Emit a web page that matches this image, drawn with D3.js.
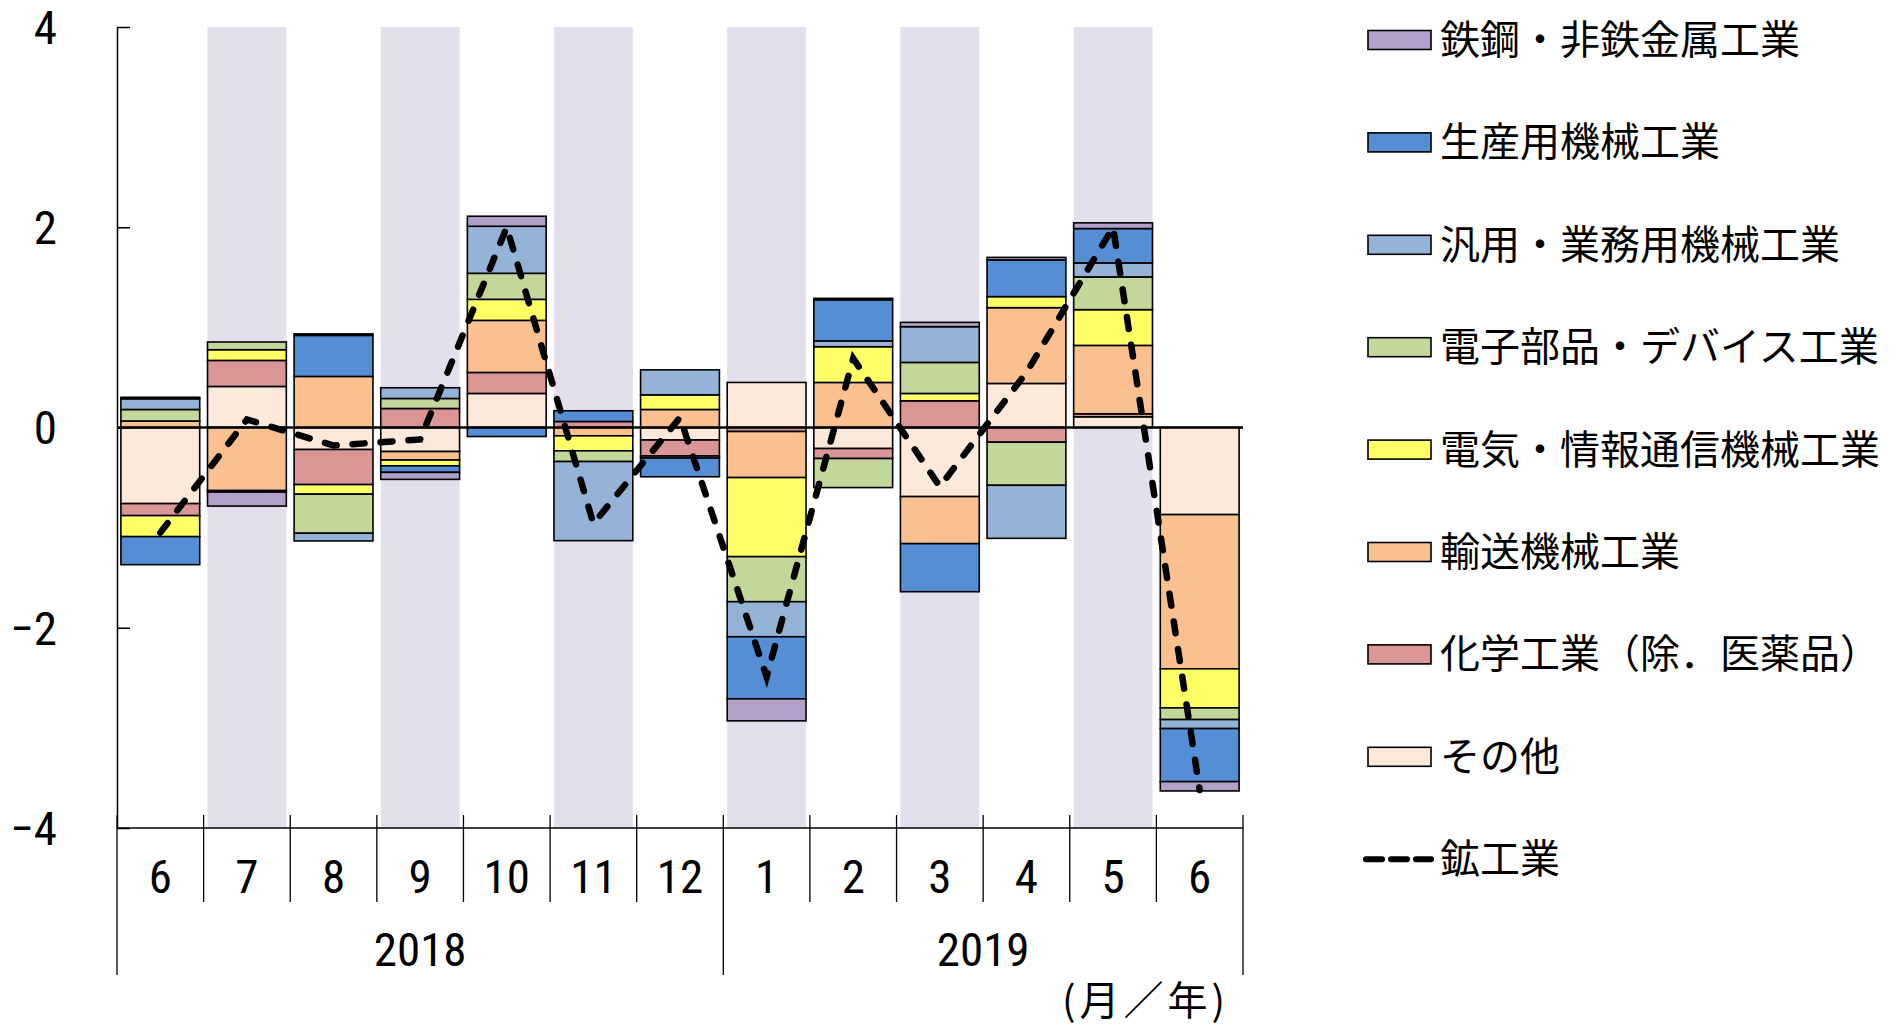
<!DOCTYPE html>
<html>
<head>
<meta charset="utf-8">
<script src="https://cdn.jsdelivr.net/npm/d3@7/dist/d3.min.js"></script>
<style>
  html, body { margin: 0; padding: 0; background: #fff; }
  svg { display: block; }
  .num { font-family: 'Liberation Sans Narrow', 'Arial Narrow', 'Roboto Condensed', sans-serif; }
  .jp { font-family: 'Noto Sans CJK JP', 'Noto Sans CJK SC', sans-serif; }
</style>
</head>
<body>
<svg id="chart" width="1898" height="1029"></svg>
<script>
// 鉱工業生産の前月比寄与度（業種別）
const months = ["6", "7", "8", "9", "10", "11", "12", "1", "2", "3", "4", "5", "6"];
const years = [
  { label: "2018", from: 0, to: 7 },
  { label: "2019", from: 7, to: 13 }
];
const yTicks = [4, 2, 0, -2, -4];

// 業種別寄与度（%ポイント）
const sonota   = [-0.76, 0.41, -0.22, -0.24, 0.34, 0.00, -0.125, 0.45, -0.21, -0.69, 0.44, 0.107, -0.87];
const kagaku   = [-0.12, 0.26, -0.35, 0.19, 0.21, 0.06, -0.16, -0.04, -0.10, 0.267, -0.147, 0.03, 0.00];
const yusou    = [0.065, -0.63, 0.51, -0.085, 0.52, -0.083, 0.18, -0.46, 0.45, -0.47, 0.757, 0.683, -1.54];
const denki    = [-0.21, 0.107, -0.096, -0.058, 0.21, -0.15, 0.146, -0.79, 0.357, 0.073, 0.11, 0.357, -0.39];
const denshi   = [0.115, 0.077, -0.39, 0.10, 0.26, -0.107, -0.02, -0.45, -0.29, 0.31, -0.43, 0.327, -0.117];
const hanyou   = [0.107, 0.00, -0.077, 0.107, 0.47, -0.79, 0.25, -0.35, 0.058, 0.357, -0.53, 0.14, -0.09];
const seisan   = [-0.28, -0.015, 0.41, -0.065, -0.09, 0.107, -0.187, -0.62, 0.41, -0.48, 0.367, 0.343, -0.53];
const tekkou   = [0.015, -0.14, 0.015, -0.07, 0.10, 0.00, 0.00, -0.22, 0.015, 0.043, 0.025, 0.057, -0.093];

// 鉱工業（前月比）
const koukougyou = [-1.05, 0.08, -0.18, -0.12, 2.0, -0.96, 0.1, -2.49, 0.69, -0.59, 0.55, 2.0, -3.62];

// 積み上げ順（0 に近い順）
const seriesKeys   = ["その他", "化学工業（除．医薬品）", "輸送機械工業", "電気・情報通信機械工業",
                      "電子部品・デバイス工業", "汎用・業務用機械工業", "生産用機械工業", "鉄鋼・非鉄金属工業"];
const seriesValues = [sonota, kagaku, yusou, denki, denshi, hanyou, seisan, tekkou];
const seriesColors = ["#FDE9D9", "#D99694", "#FAC090", "#FFFF66", "#C4D79B", "#95B3D7", "#558ED5", "#B1A0C7"];

// 凡例の並び（上から）
const legendKeys = ["鉄鋼・非鉄金属工業", "生産用機械工業", "汎用・業務用機械工業", "電子部品・デバイス工業",
                    "電気・情報通信機械工業", "輸送機械工業", "化学工業（除．医薬品）", "その他"];
const lineLabel = "鉱工業";

const svg = d3.select("#chart");

const plot = { left: 117, right: 1243, top: 27, bottom: 828 };

const x = d3.scaleBand()
  .domain(d3.range(months.length))
  .range([plot.left, plot.right])
  .paddingInner(0.09)
  .paddingOuter(0.045);

const y = d3.scaleLinear().domain([-4, 4]).range([plot.bottom, plot.top]);

const colorOf = d3.scaleOrdinal().domain(seriesKeys).range(seriesColors);

// 網掛け（隔月）
svg.append("g")
  .selectAll("rect")
  .data(d3.range(months.length).filter(i => i % 2 === 1))
  .join("rect")
  .attr("x", i => x(i))
  .attr("width", x.bandwidth())
  .attr("y", y(4))
  .attr("height", y(-4) - y(4))
  .attr("fill", "#E4DFEC");

// 積み上げ棒
const rows = months.map((m, i) => {
  const r = { idx: i };
  seriesKeys.forEach((k, s) => { r[k] = seriesValues[s][i]; });
  return r;
});
const stacked = d3.stack()
  .keys(seriesKeys)
  .order(d3.stackOrderNone)
  .offset(d3.stackOffsetDiverging)(rows);

svg.append("g")
  .selectAll("g")
  .data(stacked)
  .join("g")
  .attr("fill", d => colorOf(d.key))
  .selectAll("rect")
  .data(d => d.filter(p => p[1] !== p[0]))
  .join("rect")
  .attr("x", p => x(p.data.idx))
  .attr("width", x.bandwidth())
  .attr("y", p => y(Math.max(p[0], p[1])))
  .attr("height", p => Math.abs(y(p[0]) - y(p[1])))
  .attr("stroke", "#000")
  .attr("stroke-width", 1.6);

// ゼロ線
svg.append("line")
  .attr("x1", plot.left).attr("x2", plot.right)
  .attr("y1", y(0)).attr("y2", y(0))
  .attr("stroke", "#000").attr("stroke-width", 2.6);

// 縦軸
const yAxis = d3.axisLeft(y)
  .tickValues(yTicks)
  .tickSizeInner(-13)
  .tickSizeOuter(0)
  .tickPadding(60);
const gy = svg.append("g").attr("transform", `translate(${plot.left},0)`).call(yAxis);
gy.select(".domain").attr("stroke", "#000").attr("stroke-width", 1.5);
gy.selectAll(".tick line").attr("stroke", "#000").attr("stroke-width", 1.5);
gy.selectAll(".tick text")
  .attr("class", "num")
  .attr("font-size", 47)
  .attr("fill", "#000")
  .attr("dy", "0.35em");

// 横軸
svg.append("line")
  .attr("x1", plot.left).attr("x2", plot.right)
  .attr("y1", plot.bottom).attr("y2", plot.bottom)
  .attr("stroke", "#000").attr("stroke-width", 1.5);

const step = x.step();
const yearEdges = new Set(years.flatMap(yr => [yr.from, yr.to]));
svg.append("g")
  .selectAll("line")
  .data(d3.range(months.length + 1))
  .join("line")
  .attr("x1", k => plot.left + k * step)
  .attr("x2", k => plot.left + k * step)
  .attr("y1", plot.bottom - 13)
  .attr("y2", k => yearEdges.has(k) ? 975 : 902)
  .attr("stroke", "#000")
  .attr("stroke-width", 1.3);

const xAxis = d3.axisBottom(x).tickSize(0).tickPadding(0).tickFormat(i => months[i]);
const gx = svg.append("g").attr("transform", `translate(0,877)`).call(xAxis);
gx.select(".domain").remove();
gx.selectAll(".tick text")
  .attr("class", "num")
  .attr("font-size", 47)
  .attr("fill", "#000")
  .attr("dy", "0.35em");

svg.append("g")
  .selectAll("text")
  .data(years)
  .join("text")
  .attr("class", "num")
  .attr("x", yr => plot.left + (yr.from + yr.to) / 2 * step)
  .attr("y", 950)
  .attr("dy", "0.35em")
  .attr("text-anchor", "middle")
  .attr("font-size", 47)
  .text(yr => yr.label);

svg.append("text")
  .attr("class", "jp")
  .attr("x", 1229)
  .attr("y", 1001)
  .attr("dy", "0.35em")
  .attr("text-anchor", "end")
  .attr("font-size", 40)
  .attr("letter-spacing", 4)
  .text("(月／年)");

// 鉱工業（折れ線）
const line = d3.line()
  .x((v, i) => x(i) + x.bandwidth() / 2)
  .y(v => y(v));
svg.append("path")
  .datum(koukougyou)
  .attr("d", line)
  .attr("fill", "none")
  .attr("stroke", "#000")
  .attr("stroke-width", 6.5)
  .attr("stroke-dasharray", "12,16")
  .attr("stroke-linecap", "round");

// 凡例
const legend = svg.append("g");
const rowY = i => 40 + i * 102.4;
const items = legend.selectAll("g")
  .data(legendKeys)
  .join("g")
  .attr("transform", (k, i) => `translate(0,${rowY(i)})`);
items.append("rect")
  .attr("x", 1368).attr("y", -9.5)
  .attr("width", 63).attr("height", 19)
  .attr("fill", k => colorOf(k))
  .attr("stroke", "#000").attr("stroke-width", 1.6);
items.append("text")
  .attr("class", "jp")
  .attr("x", 1440).attr("y", 0)
  .attr("dy", "0.35em")
  .attr("font-size", 40)
  .text(k => k);

const lineItem = legend.append("g").attr("transform", `translate(0,${rowY(legendKeys.length)})`);
lineItem.append("line")
  .attr("x1", 1366).attr("x2", 1431)
  .attr("y1", 0).attr("y2", 0)
  .attr("stroke", "#000").attr("stroke-width", 6)
  .attr("stroke-dasharray", "16,9")
  .attr("stroke-linecap", "round");
lineItem.append("text")
  .attr("class", "jp")
  .attr("x", 1440).attr("y", 0)
  .attr("dy", "0.35em")
  .attr("font-size", 40)
  .text(lineLabel);
</script>
</body>
</html>
